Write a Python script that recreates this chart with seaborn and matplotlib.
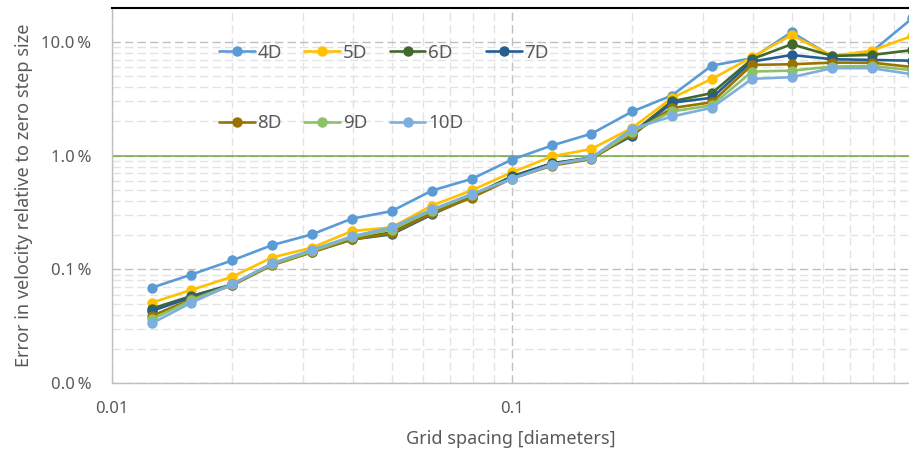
import numpy as np
import pandas as pd
import matplotlib
matplotlib.use("Agg")
import matplotlib.pyplot as plt
import seaborn as sns
from matplotlib.ticker import FixedLocator, FuncFormatter, NullFormatter

# grid spacing in diameters
spacing = [0.0126, 0.0158, 0.02, 0.0251, 0.0316, 0.0398, 0.05, 0.0631, 0.0794, 0.1,
           0.126, 0.158, 0.2, 0.251, 0.316, 0.398, 0.5, 0.631, 0.794, 1.0]

# error in velocity [%]
err_4d = [0.069, 0.090, 0.120, 0.163, 0.203, 0.279, 0.325, 0.493, 0.625, 0.923,
          1.23, 1.56, 2.45, 3.38, 6.20, 7.19, 12.2, 7.43, 8.22, 16.1]
err_5d = [0.051, 0.066, 0.086, 0.127, 0.155, 0.217, 0.234, 0.364, 0.496, 0.714,
          0.986, 1.145, 1.76, 3.21, 4.73, 7.34, 11.5, 7.54, 8.39, 11.3]
err_6d = [0.0452, 0.0583, 0.0738, 0.1117, 0.1438, 0.187, 0.211, 0.316, 0.446, 0.658,
          0.859, 0.960, 1.59, 3.00, 3.55, 7.05, 9.55, 7.54, 7.69, 8.47]
err_7d = [0.0431, 0.0568, 0.0731, 0.1106, 0.1424, 0.183, 0.203, 0.304, 0.437, 0.654,
          0.851, 0.960, 1.50, 2.92, 3.23, 6.72, 7.69, 7.05, 6.95, 6.84]
err_8d = [0.0390, 0.0546, 0.0724, 0.1084, 0.1410, 0.183, 0.207, 0.310, 0.428, 0.629,
          0.817, 0.932, 1.56, 2.62, 2.95, 6.28, 6.37, 6.58, 6.58, 6.02]
err_9d = [0.0364, 0.0535, 0.0738, 0.1106, 0.1438, 0.191, 0.224, 0.329, 0.455, 0.629,
          0.834, 0.951, 1.62, 2.45, 2.77, 5.49, 5.60, 6.07, 6.16, 5.64]
err_10d = [0.0336, 0.0510, 0.0738, 0.1129, 0.1483, 0.195, 0.234, 0.336, 0.460, 0.625,
           0.834, 0.960, 1.73, 2.21, 2.64, 4.74, 4.90, 5.88, 5.88, 5.20]

series_names = ["4D", "5D", "6D", "7D", "8D", "9D", "10D"]
colors = ["#5B9BD5", "#FFC000", "#43682B", "#255E91", "#997300", "#8CC168", "#7CAFDD"]

all_err = [err_4d, err_5d, err_6d, err_7d, err_8d, err_9d, err_10d]
rows = []
for name, vals in zip(series_names, all_err):
    for x, y in zip(spacing, vals):
        rows.append({"spacing": x, "error": y, "series": name})
df = pd.DataFrame(rows)

sns.set_style("white")
plt.rcParams["font.family"] = ["Noto Sans", "DejaVu Sans"]
text_col = "#595959"

fig = plt.figure(figsize=(9.09, 4.57), dpi=100)
ax = fig.add_axes([112 / 909, 74 / 457, 797 / 909, 375 / 457])

sns.lineplot(data=df, x="spacing", y="error", hue="series", hue_order=series_names,
             palette=colors, marker="o", markersize=7.5, markeredgewidth=0,
             linewidth=1.9, estimator=None, ax=ax, clip_on=True)

ax.axhline(1.0, color="#70AD47", lw=1.1, zorder=1)

ax.set_xscale("log")
ax.set_yscale("log")
ax.set_xlim(0.01, 0.983)
ax.set_ylim(0.01, 19.9)

ax.xaxis.set_major_locator(FixedLocator([0.01, 0.1, 1.0]))
ax.xaxis.set_minor_locator(FixedLocator([m * d for d in (0.01, 0.1) for m in range(2, 10)]))
ax.yaxis.set_major_locator(FixedLocator([0.01, 0.1, 1.0, 10.0]))
ax.yaxis.set_minor_locator(FixedLocator([m * d for d in (0.01, 0.1, 1.0, 10.0) for m in range(2, 10)]))
ax.xaxis.set_major_formatter(FuncFormatter(lambda v, p: f"{v:g}"))
ax.xaxis.set_minor_formatter(NullFormatter())
ax.yaxis.set_major_formatter(FuncFormatter(lambda v, p: f"{v:.1f}\u2009%"))
ax.yaxis.set_minor_formatter(NullFormatter())

ax.grid(which="major", color="#BFBFBF", linestyle=(0, (6, 3)), lw=1.0)
ax.grid(which="minor", color="#E3E3E3", linestyle=(0, (6, 3)), lw=1.0)
ax.set_axisbelow(True)

ax.tick_params(which="both", length=0, labelsize=12, labelcolor=text_col)
ax.tick_params(axis="x", pad=13)
ax.tick_params(axis="y", pad=15)

for side in ["left", "bottom"]:
    ax.spines[side].set_color("#BFBFBF")
    ax.spines[side].set_linewidth(1.0)
ax.spines["right"].set_visible(False)
ax.spines["top"].set_color("black")
ax.spines["top"].set_linewidth(1.5)

ax.set_xlabel("Grid spacing [diameters]", fontsize=13, color=text_col, labelpad=9)
ax.set_ylabel("Error in velocity relative to zero step size", fontsize=13,
              color=text_col, labelpad=6)

handles, labels = ax.get_legend_handles_labels()
order = [0, 4, 1, 5, 2, 6, 3]
ax.legend([handles[i] for i in order], [labels[i] for i in order], ncol=4,
          frameon=False, fontsize=13.5, labelcolor=text_col, handlelength=1.9,
          handletextpad=0.15, columnspacing=1.2, labelspacing=2.8,
          loc="upper left", bbox_to_anchor=(0.113, 0.95))

fig.savefig("out.png", dpi=100)
